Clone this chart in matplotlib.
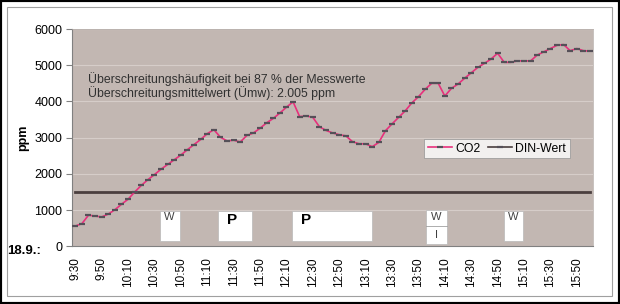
import matplotlib.pyplot as plt
from matplotlib.patches import Rectangle
from matplotlib.lines import Line2D

plt.rcParams['font.family'] = ['Liberation Sans', 'DejaVu Sans']

# CO2 readings every 5 minutes, 9:30 .. 16:00 (18.9.)
times = []
for m in range(9 * 60 + 30, 16 * 60 + 1, 5):
    times.append(f"{m // 60}:{m % 60:02d}")

co2 = [560, 625, 860, 835, 810, 890, 1010, 1160, 1300, 1500,
       1680, 1840, 1980, 2130, 2260, 2390, 2520, 2670, 2810, 2950,
       3110, 3220, 3010, 2910, 2930, 2880, 3060, 3130, 3260, 3410,
       3530, 3680, 3840, 3990, 3580, 3600, 3560, 3300, 3200, 3130,
       3080, 3050, 2890, 2830, 2830, 2750, 2870, 3190, 3380, 3560,
       3740, 3960, 4130, 4330, 4500, 4500, 4150, 4360, 4480, 4640,
       4790, 4940, 5050, 5170, 5330, 5080, 5080, 5120, 5120, 5120,
       5280, 5370, 5460, 5550, 5570, 5400, 5460, 5400, 5390]
din_wert = [1500] * len(co2)

info_lines = ["Überschreitungshäufigkeit bei 87 % der Messwerte",
              "Überschreitungsmittelwert (Ümw): 2.005 ppm"]

# activity boxes: (x from, x to, label, big)
boxes = [(12.8, 15.8, "W", False),
         (21.7, 26.8, "P", True),
         (32.9, 44.95, "P", True),
         (64.9, 67.9, "W", False)]

bg = '#c2b7b2'
pink = '#e8307c'
mark = '#555058'
dark = '#4b3f3f'
x = list(range(len(co2)))

fig = plt.figure(figsize=(6.2, 3.04), dpi=100)
ax = fig.add_axes([72 / 620, 1 - 246.3 / 304, 521.3 / 620, 217.3 / 304])
ax.set_facecolor(bg)

ax.set_ylim(0, 6000)
ax.set_xlim(-0.5, len(co2) - 0.5)
ax.set_yticks(range(0, 6001, 1000))
ax.yaxis.grid(True, color='#d6cdc9', lw=0.8)
ax.set_axisbelow(True)

ax.plot(x, din_wert, color=dark, lw=2, zorder=3)
ax.plot(x, co2, color=pink, lw=1.2, marker='_', ms=4.5, mew=1.6,
        mec=mark, zorder=4)

for x0, x1, lab, big in boxes:
    ax.add_patch(Rectangle((x0, 150), x1 - x0, 825, facecolor='white',
                           edgecolor='#b8b8b8', lw=0.5, zorder=2))
    if big:
        ax.text(x0 + 2.0, 720, lab, fontsize=11, fontweight='bold',
                ha='center', va='center', zorder=5)
    else:
        ax.text((x0 + x1) / 2, 820, lab, fontsize=8, color='#404040',
                ha='center', va='center', zorder=5)

# W / I box
ax.add_patch(Rectangle((53.2, 60), 3.1, 940, facecolor='white',
                       edgecolor='#b8b8b8', lw=0.5, zorder=2))
ax.plot([53.2, 56.3], [560, 560], color='#a0a0a0', lw=0.6, zorder=3)
ax.text(54.75, 810, "W", fontsize=8, color='#404040', ha='center', va='center', zorder=5)
ax.text(54.75, 300, "I", fontsize=8, color='#404040', ha='center', va='center', zorder=5)

ax.text(0.031, 0.752, info_lines[0], transform=ax.transAxes, fontsize=8.8,
        color='#303030', va='baseline')
ax.text(0.031, 0.686, info_lines[1], transform=ax.transAxes, fontsize=8.8,
        color='#303030', va='baseline')

handles = [Line2D([], [], color=pink, lw=1.2, marker='_', ms=4.5, mew=1.6, mec=mark),
           Line2D([], [], color=dark, lw=1.2, marker='_', ms=4.5, mew=1.6, mec=mark)]
leg = ax.legend(handles, ['CO2', 'DIN-Wert'], ncol=2, loc='upper left',
                bbox_to_anchor=(0.675, 0.494), fontsize=8.8, frameon=True,
                fancybox=False, borderpad=0.3, handlelength=2.0,
                handletextpad=0.25, columnspacing=0.6, borderaxespad=0)
leg.get_frame().set_edgecolor('#909090')
leg.get_frame().set_linewidth(0.6)

ax.set_xticks(x[::4])
ax.set_xticklabels(times[::4], rotation=90, fontsize=8.5)
ax.tick_params(axis='x', length=0, pad=8)
ax.tick_params(axis='y', labelsize=9, length=4, color='#808080', pad=3)
for s in ['top', 'right']:
    ax.spines[s].set_color('#b0a8a4')
    ax.spines[s].set_linewidth(0.5)
ax.spines['left'].set_color('#808080')
ax.spines['bottom'].set_color('#808080')

fig.text(23.5 / 620, 0.5 * 217.3 / 304 + 1 - 246.3 / 304, "ppm", rotation=90,
         fontsize=9, fontweight='bold', ha='center', va='center')
fig.text(7 / 620, 1 - 251.5 / 304, "18.9.:", fontsize=9.5, fontweight='bold',
         ha='left', va='center')

fig.patches.append(Rectangle((7 / 620, 8 / 304), 605 / 620, 289 / 304,
                             transform=fig.transFigure, fill=False,
                             edgecolor='#a0a0a0', lw=0.8))
fig.patches.append(Rectangle((0, 0), 1, 1, transform=fig.transFigure,
                             fill=False, edgecolor='black', lw=3))

fig.savefig('out.png', dpi=100)
